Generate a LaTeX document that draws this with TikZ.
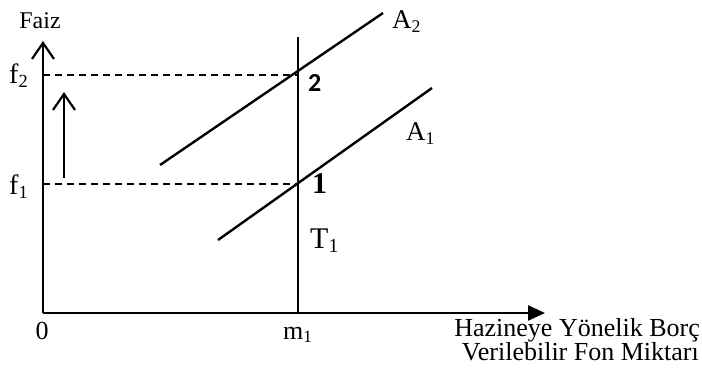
\documentclass[tikz,border=0pt]{standalone}
\usepackage{fontspec}
\setmainfont{Liberation Serif}
\newfontfamily\calibri{Carlito}
\usetikzlibrary{arrows.meta}

\newcommand{\idx}[1]{\raisebox{-0.15em}{\scalebox{0.66}{#1}}}

\begin{document}
\begin{tikzpicture}[
    x=1pt, y=-1pt,
    line width=2.4pt,
    every node/.style={font=\fontsize{26}{24}\selectfont, inner sep=0pt},
    barb/.style={-{Straight Barb[length=16pt,width=22pt,line width=2.2pt]}},
    guide/.style={dashed, line width=1.4pt, dash pattern=on 7pt off 5pt}
]
\useasboundingbox (0,0) rectangle (702,376);

%-------------------------
% Axes
%-------------------------
\coordinate (O) at (43,313);
\coordinate (Ytop) at (43,41);
\coordinate (Xend) at (545,313);

\draw[barb] (O) -- (Ytop);
\draw[-{Triangle[length=17pt,width=15pt]}] (O) -- (Xend);

\node[anchor=base, font=\fontsize{24}{24}\selectfont] (faiz) at (40,28) {Faiz};
\node[anchor=base] (zero) at (42,339) {0};
\node[anchor=base east] (xlab1) at (701,336) {Hazineye Yönelik Borç};
\node[anchor=base east] (xlab2) at (700,360) {Verilebilir Fon Miktarı};

%-------------------------
% Vertical line T1
%-------------------------
\coordinate (Ttop) at (298,37);
\coordinate (Tbot) at (298,313);
\draw (Tbot) -- (Ttop);
\node[anchor=base west] (m1) at (282,339) {m\idx{1}};
\node[anchor=base west, font=\fontsize{30}{30}\selectfont] (T1) at (309,248) {T\idx{1}};

%-------------------------
% Curves A1 and A2
%-------------------------
\coordinate (A2s) at (160,165);
\coordinate (A2e) at (383,13);
\coordinate (A1s) at (218,240);
\coordinate (A1e) at (432,88);
\draw (A2s) -- (A2e);
\draw (A1s) -- (A1e);
\node[anchor=base west, font=\fontsize{27}{27}\selectfont] (A2) at (391,28) {A\idx{2}};
\node[anchor=base west, font=\fontsize{27}{27}\selectfont] (A1) at (405,140) {A\idx{1}};

%-------------------------
% Equilibrium points
%-------------------------
\coordinate (P2) at (298,75);
\coordinate (P1) at (298,184);
\coordinate (F2) at (43,75);
\coordinate (F1) at (43,184);
\draw[guide] (F2) -- (P2);
\draw[guide] (F1) -- (P1);
\node[anchor=base west, font=\fontsize{28}{28}\selectfont] (f2) at (8,83) {f\idx{2}};
\node[anchor=base west, font=\fontsize{28}{28}\selectfont] (f1) at (8,194) {f\idx{1}};
\node[anchor=base west, font=\calibri\bfseries\fontsize{26}{26}\selectfont] (n2) at (307,91) {2};
\node[anchor=base west, font=\bfseries\fontsize{30}{30}\selectfont] (n1) at (311,193) {1};

%-------------------------
% Shift arrow
%-------------------------
\coordinate (Sb) at (64,178);
\coordinate (St) at (64,92);
\draw[barb] (Sb) -- (St);
\end{tikzpicture}
\end{document}
